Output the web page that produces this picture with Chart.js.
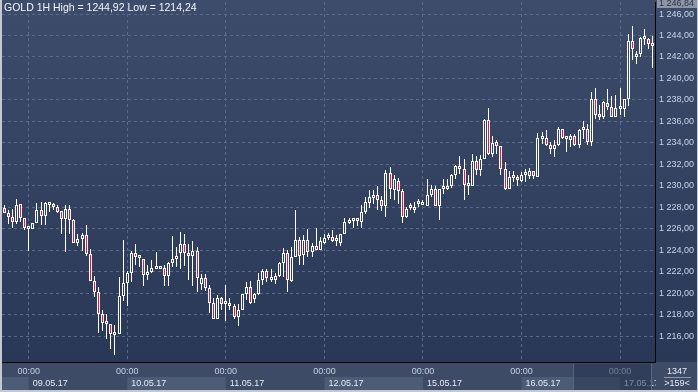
<!DOCTYPE html>
<html><head><meta charset="utf-8">
<script src="https://cdn.jsdelivr.net/npm/chart.js@4/dist/chart.umd.min.js"></script>
<style>html,body{margin:0;padding:0;background:#c3c9d3;}canvas{display:block}</style>
</head><body>
<canvas id="c" width="698" height="392"></canvas>
<script>
// ---- data ----
const days = ['08.05.17','09.05.17','10.05.17','11.05.17','12.05.17','15.05.17','16.05.17','17.05.17'];
const candlesPerDay = [6,24,24,24,24,24,24,9];
const firstHour = [18,0,0,0,0,0,0,0];
const yTicks = [1216,1218,1220,1222,1224,1226,1228,1230,1232,1234,1236,1238,1240,1242,1244,1246];
const open = [
1227.90,1227.47,1227.13,1226.60,1228.31,1227.01,1225.98,1225.98,1226.54,1227.78,
1227.22,1228.19,1228.25,1228.06,1227.66,1226.88,1227.88,1226.82,1224.68,1225.05,
1225.42,1223.65,1221.14,1220.08,1218.03,1217.10,1217.13,1216.07,1216.20,1219.71,
1220.95,1221.88,1223.78,1223.28,1223.22,1221.70,1221.94,1222.22,1222.26,1222.38,
1221.58,1222.76,1223.13,1223.69,1224.62,1223.69,1223.44,1223.94,1220.89,1221.36,
1220.52,1219.12,1217.63,1219.50,1218.94,1219.03,1218.84,1217.73,1218.47,1219.87,
1220.58,1219.43,1219.96,1221.20,1222.07,1221.20,1221.20,1221.58,1222.85,1223.78,
1221.14,1223.38,1224.93,1223.53,1224.93,1223.84,1224.37,1224.06,1224.71,1225.09,
1225.22,1224.82,1224.66,1225.53,1226.56,1226.68,1226.68,1226.62,1227.52,1228.39,
1228.89,1229.17,1228.70,1228.14,1231.22,1229.63,1230.47,1229.48,1227.09,1227.92,
1227.96,1228.27,1228.24,1228.14,1229.17,1229.73,1228.11,1229.66,1229.66,1229.94,
1230.97,1231.78,1231.59,1230.01,1230.01,1232.27,1231.43,1232.52,1236.09,1232.99,
1234.06,1233.66,1231.58,1229.71,1230.74,1230.83,1230.43,1231.02,1230.95,1231.39,
1230.86,1234.37,1234.46,1233.81,1233.44,1233.84,1235.30,1234.46,1234.22,1234.68,
1233.81,1235.15,1235.30,1234.06,1238.10,1236.61,1236.36,1237.73,1237.35,1236.45,
1237.14,1237.11,1238.04,1243.44,1242.04,1242.29,1243.63,1243.63,1243.22];
const high = [
1228.25,1227.78,1227.88,1228.81,1228.31,1227.01,1226.20,1226.57,1228.43,1228.53,
1228.50,1228.53,1228.43,1228.25,1227.66,1228.19,1228.19,1226.91,1225.52,1225.61,
1226.39,1224.12,1221.60,1220.55,1218.47,1218.06,1217.13,1217.07,1221.48,1224.99,
1222.10,1223.96,1224.62,1223.50,1223.22,1222.66,1223.09,1223.84,1222.45,1222.66,
1222.90,1225.30,1224.31,1225.65,1225.55,1224.62,1224.87,1224.31,1221.76,1221.76,
1220.74,1219.50,1219.81,1219.65,1220.71,1219.50,1219.03,1219.00,1219.87,1220.99,
1221.11,1220.02,1221.83,1222.20,1222.20,1222.20,1221.83,1222.91,1224.16,1224.06,
1224.31,1227.73,1225.24,1225.40,1225.93,1224.68,1226.11,1225.24,1225.55,1225.62,
1225.84,1225.38,1225.53,1227.02,1227.02,1226.93,1227.02,1228.23,1228.95,1229.63,
1229.57,1229.94,1229.04,1231.50,1231.74,1230.97,1230.75,1229.69,1228.02,1228.39,
1228.48,1228.79,1228.64,1230.60,1230.04,1229.94,1229.73,1230.66,1230.60,1231.06,
1231.96,1232.74,1232.52,1230.97,1232.99,1232.74,1232.83,1236.25,1237.27,1234.63,
1234.22,1233.66,1232.20,1231.33,1231.33,1231.02,1231.27,1231.58,1231.64,1231.42,
1234.93,1235.05,1235.24,1234.06,1234.28,1235.52,1235.30,1234.68,1234.84,1234.84,
1235.30,1235.99,1235.77,1238.78,1239.09,1237.54,1237.94,1238.97,1238.32,1238.41,
1239.09,1238.10,1244.16,1244.92,1242.51,1243.84,1244.56,1243.78,1243.91];
const low = [
1227.44,1226.45,1226.07,1226.45,1226.60,1225.89,1223.96,1225.98,1226.54,1226.35,
1226.35,1227.60,1227.75,1227.44,1225.48,1223.81,1225.52,1224.68,1224.43,1223.96,
1223.50,1221.14,1219.61,1216.26,1216.51,1215.73,1214.77,1214.24,1216.20,1219.30,
1218.78,1221.01,1222.66,1222.41,1220.64,1221.23,1221.85,1222.22,1222.20,1220.64,
1220.70,1222.45,1222.45,1222.29,1222.54,1221.20,1220.68,1220.06,1220.27,1220.21,
1218.10,1217.57,1217.57,1218.47,1217.42,1218.41,1217.63,1216.95,1218.41,1219.34,
1219.03,1219.09,1219.81,1220.74,1221.05,1221.05,1220.89,1221.52,1221.52,1220.12,
1221.05,1223.32,1222.60,1222.60,1223.38,1223.32,1224.00,1224.00,1224.62,1224.93,
1224.76,1224.38,1224.38,1225.53,1226.40,1226.09,1226.25,1226.09,1227.40,1227.96,
1228.33,1227.71,1227.61,1227.09,1228.73,1228.70,1228.33,1226.56,1227.02,1227.71,
1227.46,1228.02,1228.17,1228.08,1228.95,1228.08,1226.84,1229.26,1229.57,1229.82,
1230.60,1231.06,1228.70,1229.10,1229.94,1230.97,1230.88,1232.46,1232.83,1232.68,
1232.97,1231.02,1229.56,1229.71,1230.33,1229.96,1230.33,1230.33,1230.64,1230.64,
1230.80,1233.91,1233.75,1232.97,1232.66,1233.75,1234.37,1233.19,1233.60,1233.75,
1233.50,1234.31,1233.81,1233.69,1236.24,1236.08,1236.24,1237.07,1236.39,1236.39,
1236.55,1236.39,1237.42,1241.76,1241.36,1241.98,1243.07,1242.76,1240.96];
const close = [
1227.50,1227.13,1226.60,1228.22,1227.01,1226.07,1226.20,1226.57,1227.75,1227.16,
1228.43,1228.40,1228.06,1227.57,1226.88,1227.88,1226.82,1224.68,1225.05,1225.42,
1223.65,1221.14,1220.08,1218.03,1217.22,1217.22,1216.20,1216.20,1219.71,1220.95,
1221.88,1223.78,1223.37,1223.37,1221.70,1222.01,1222.32,1222.38,1222.38,1221.63,
1222.76,1223.13,1223.44,1224.62,1223.69,1223.44,1223.94,1221.36,1221.36,1220.52,
1219.12,1217.63,1219.50,1218.94,1219.03,1218.84,1217.73,1218.47,1219.87,1220.58,
1219.12,1219.96,1221.20,1222.07,1221.36,1221.36,1221.58,1222.85,1223.78,1221.20,
1223.38,1224.93,1223.47,1224.93,1223.84,1224.37,1224.06,1224.87,1225.15,1225.15,
1224.82,1224.91,1225.53,1226.59,1226.78,1226.81,1226.74,1227.52,1228.45,1228.92,
1229.17,1228.70,1228.14,1231.22,1229.73,1230.60,1229.48,1227.09,1227.86,1228.02,
1227.77,1228.33,1228.45,1229.17,1229.73,1228.11,1229.66,1229.73,1229.94,1230.97,
1231.81,1231.59,1230.10,1230.13,1232.27,1231.43,1232.52,1236.09,1232.99,1234.01,
1233.66,1231.58,1229.71,1230.80,1230.86,1230.55,1231.02,1231.11,1231.42,1230.95,
1234.46,1234.46,1233.81,1233.44,1233.84,1235.30,1234.46,1234.31,1234.68,1233.81,
1235.15,1235.21,1234.06,1238.10,1236.61,1236.36,1237.79,1237.35,1236.45,1237.26,
1237.23,1238.04,1243.44,1242.76,1242.29,1243.75,1243.75,1243.22,1242.98];

// ---- categories ----
const labels = [], midnight = [], dayOfIdx = [];
days.forEach((d, k) => {
  for (let h = 0; h < candlesPerDay[k]; h++) {
    const hr = firstHour[k] + h;
    if (hr === 0) midnight.push(labels.length);
    dayOfIdx.push(k);
    labels.push(d + ' ' + String(hr).padStart(2, '0') + ':00');
  }
});

const FONT = "'Liberation Sans', Arial, sans-serif";
const BG_TOP = [62, 76, 108], BG_BOT = [42, 56, 88];
function bgAt(y) {
  const t = Math.max(0, Math.min(1, y / 362));
  const c = BG_TOP.map((v, i) => Math.round(v + (BG_BOT[i] - v) * t));
  return 'rgb(' + c.join(',') + ')';
}
function fmt(v) {
  const s = v.toFixed(2).replace('.', ',');
  return s.length > 6 ? s.slice(0, s.length - 6) + ' ' + s.slice(s.length - 6) : s;
}

const panelPlugin = {
  id: 'panel',
  beforeDraw(chart) {
    const c = chart.ctx, a = chart.chartArea, W = chart.width, H = chart.height;
    c.save();
    c.fillStyle = '#c3c9d3';
    c.fillRect(0, 0, W, H);
    const g = c.createLinearGradient(0, 0, 0, a.bottom);
    g.addColorStop(0, 'rgb(' + BG_TOP.join(',') + ')');
    g.addColorStop(1, 'rgb(' + BG_BOT.join(',') + ')');
    c.fillStyle = g;
    c.fillRect(2, 0, W - 3, a.bottom);
    c.fillStyle = '#3d4b66';
    c.fillRect(2, a.bottom, W - 3, H - a.bottom - 2);
    const xs = chart.scales.x;
    const bounds = [a.left].concat(midnight.map(i => xs.getPixelForValue(i)), [a.right]);
    for (let k = 0; k < days.length; k++) {
      if (k % 2 === 0) {
        c.fillStyle = '#4c5b76';
        c.fillRect(bounds[k], a.bottom + 15, bounds[k + 1] - bounds[k], 13);
      }
    }
    c.restore();
  },
  afterDraw(chart) {
    const c = chart.ctx, a = chart.chartArea, W = chart.width, H = chart.height;
    const xs = chart.scales.x;
    c.save();
    c.font = '10.5px ' + FONT;
    c.fillStyle = '#f2f5fa';
    c.textBaseline = 'middle';
    c.textAlign = 'left';
    c.fillText('GOLD 1H High = ' + fmt(Math.max(...high)).replace(' ', '') + ' Low = ' + fmt(Math.min(...low)).replace(' ', ''), 4, 8);
    c.font = '9px ' + FONT;
    midnight.forEach(i => {
      const x = xs.getPixelForValue(i);
      const k = dayOfIdx[i];
      c.fillStyle = '#c6d0e2';
      c.textAlign = 'center';
      c.fillText('00:00', x, a.bottom + 10);
      c.fillStyle = '#e6ebf3';
      c.textAlign = 'left';
      c.fillText(days[k], x + 4, a.bottom + 21.5);
    });
    const ox = xs.getPixelForValue(midnight[midnight.length - 1]) - 47;
    c.fillStyle = 'rgba(40,52,78,0.55)';
    c.fillRect(ox, a.bottom + 2, a.right - 3 - ox, H - a.bottom - 4);
    c.fillStyle = '#5a6882';
    c.fillRect(ox, a.bottom + 2, 1, H - a.bottom - 4);
    c.fillRect(a.right - 4, a.bottom + 2, 1, H - a.bottom - 4);
    c.fillStyle = '#3d4b66';
    c.fillRect(a.right + 1, a.bottom + 1, W - a.right - 2, H - a.bottom - 3);
    c.fillStyle = '#e6ebf3';
    c.textAlign = 'center';
    c.fillText('1347', a.right + 22, a.bottom + 10);
    c.fillText('>' + labels.length + '<', a.right + 22, a.bottom + 21.5);
    c.fillStyle = '#8e99ad';
    c.fillRect(a.right + 9, a.bottom + 15, 27, 1);
    c.fillStyle = '#8d96a8';
    c.fillRect(a.right + 2, 0, W - a.right - 3, 8);
    c.fillStyle = '#2a3346';
    c.textAlign = 'left';
    c.fillText(fmt(chart.scales.y.max - 0.28), a.right + 4, 3.5);
    c.fillStyle = '#c3c9d3';
    c.fillRect(0, H - 2, W, 2);
    c.fillRect(0, 0, 2, H);
    c.fillRect(W - 1, 0, 1, H);
    c.restore();
  }
};

const snapPlugin = {
  id: 'snap',
  beforeDatasetsDraw(chart) {
    chart.data.datasets.forEach((ds, di) => {
      chart.getDatasetMeta(di).data.forEach(el => {
        el.x = Math.floor(el.x) + 0.5;
        el.y = Math.round(el.y);
        el.base = Math.round(el.base);
      });
    });
  }
};

new Chart(document.getElementById('c'), {
  type: 'bar',
  data: {
    labels: labels,
    datasets: [
      {
        label: 'body',
        data: open.map((o, i) => [o, close[i]]),
        grouped: false,
        barThickness: 3,
        minBarLength: 3,
        borderWidth: 1,
        borderSkipped: false,
        inflateAmount: 0,
        borderColor: '#ffffff',
        backgroundColor: ctx => {
          const i = ctx.dataIndex;
          if (close[i] < open[i]) return '#e8163c';
          return bgAt(ctx.chart.scales.y.getPixelForValue((open[i] + close[i]) / 2));
        }
      },
      {
        label: 'wick',
        data: low.map((l, i) => [l, high[i]]),
        grouped: false,
        barThickness: 1,
        borderWidth: 0,
        inflateAmount: 0,
        backgroundColor: '#ffffff'
      }
    ]
  },
  options: {
    responsive: false,
    animation: false,
    devicePixelRatio: 1,
    layout: { padding: { left: 2, top: 2, right: 0, bottom: 0 } },
    plugins: { legend: { display: false }, tooltip: { enabled: false } },
    scales: {
      x: {
        type: 'category',
        offset: true,
        afterBuildTicks: s => { s.ticks = midnight.map(i => ({ value: i })); },
        afterFit: s => { s.height = 30; s.paddingLeft = 0; s.paddingRight = 0; },
        ticks: { display: false },
        grid: { offset: false, drawTicks: false, color: '#596a8a', lineWidth: 1 },
        border: { display: true, color: '#000000', width: 1, dash: [3, 3] }
      },
      y: {
        position: 'right',
        min: 1213.58,
        max: 1247.12,
        afterBuildTicks: s => { s.ticks = yTicks.map(v => ({ value: v })); },
        afterFit: s => { s.width = 43; s.paddingTop = 0; s.paddingBottom = 0; },
        ticks: { color: '#c9d3e6', font: { size: 9, family: FONT }, padding: 4, callback: v => fmt(v) },
        grid: { drawTicks: false, color: '#596a8a', lineWidth: 1 },
        border: { display: true, color: '#000000', width: 1, dash: [3, 3] }
      }
    }
  },
  plugins: [panelPlugin, snapPlugin]
});
</script>
</body></html>
